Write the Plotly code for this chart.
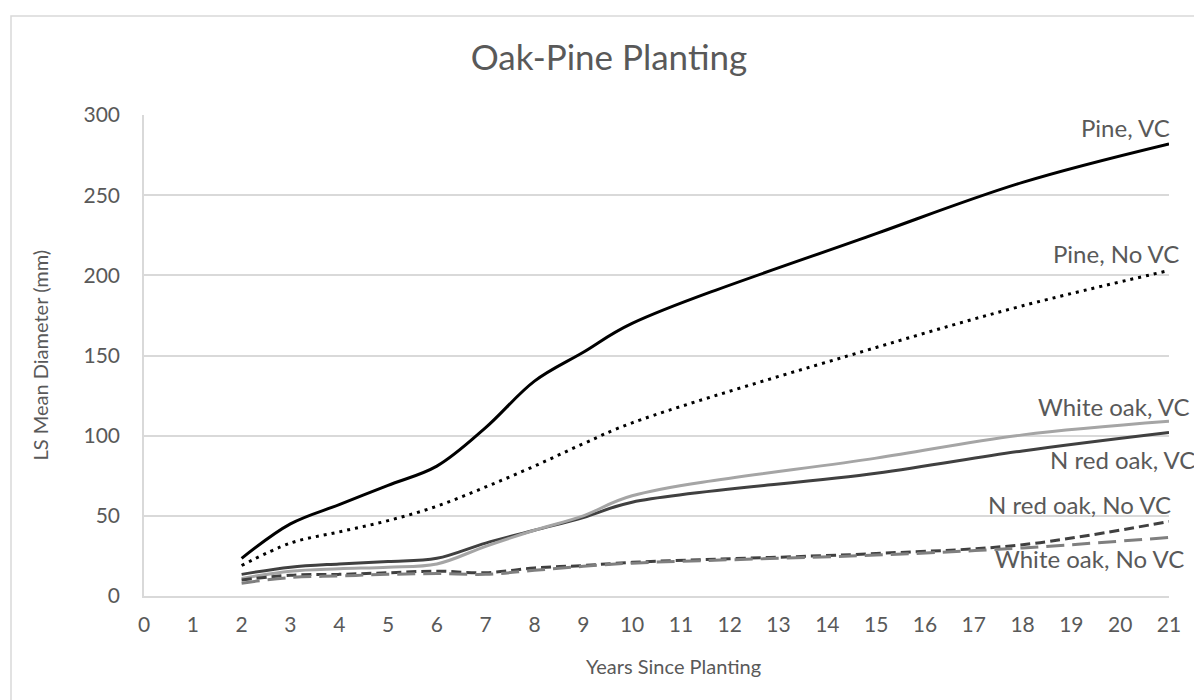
import plotly.graph_objects as go

years = [2, 3, 4, 5, 6, 7, 8, 9, 10, 15, 18, 21]

pine_vc = [23.5, 45, 57, 69, 81, 105, 134, 152, 170, 226, 258, 282]
pine_novc = [19, 33, 40, 47, 56, 68, 81, 95, 108, 155, 181, 203]
nro_vc = [13.5, 18, 20, 21.5, 23.5, 33, 41, 49, 58.5, 76.5, 90.5, 102]
nro_novc = [10, 13, 13.5, 14.5, 15.5, 14.5, 17.5, 19, 21, 26.5, 32, 46.5]
wo_vc = [11, 15.5, 17, 18, 20, 31, 41, 50, 62.5, 86, 100.5, 109]
wo_novc = [8, 11.5, 12.5, 13.5, 14, 13.5, 16, 18.5, 20.5, 25.5, 30, 36.5]

series_names = ["Pine, VC", "Pine, No VC", "N red oak, VC", "N red oak, No VC",
                "White oak, VC", "White oak, No VC"]
series_values = [pine_vc, pine_novc, nro_vc, nro_novc, wo_vc, wo_novc]
x_ticks = list(range(0, 22))
y_ticks = [0, 50, 100, 150, 200, 250, 300]

styles = {
    "Pine, VC": dict(color="#000000", width=3, dash="solid"),
    "Pine, No VC": dict(color="#000000", width=3, dash="3px,5px"),
    "N red oak, VC": dict(color="#404040", width=3, dash="solid"),
    "N red oak, No VC": dict(color="#404040", width=3, dash="10px,5px"),
    "White oak, VC": dict(color="#a5a5a5", width=3, dash="solid"),
    "White oak, No VC": dict(color="#7f7f7f", width=3, dash="18px,8px"),
}

# label positions (y in data units, x shift in px)
label_pos = {
    "Pine, VC": (292.5, 3),
    "Pine, No VC": (213.5, 12),
    "White oak, VC": (118, 23),
    "N red oak, VC": (85, 28),
    "N red oak, No VC": (57, 4),
    "White oak, No VC": (23.5, 17),
}

FONT = "Lato"
GREY = "#595959"
L, R, T, B = 136, 41, 107, 112
PW = 1202 - L - R
PH = 700 - T - B

fig = go.Figure()
order = ["Pine, VC", "Pine, No VC", "N red oak, VC", "White oak, VC",
         "N red oak, No VC", "White oak, No VC"]
for name in order:
    vals = series_values[series_names.index(name)]
    fig.add_trace(go.Scatter(
        x=years, y=vals, mode="lines", name=name,
        line=dict(shape="spline", smoothing=1, **styles[name]),
        showlegend=False,
    ))

for name in series_names:
    yv, xs = label_pos[name]
    fig.add_annotation(x=21, y=yv, xref="x", yref="y", text=name, showarrow=False,
                       xanchor="right", yanchor="middle", xshift=xs,
                       font=dict(family=FONT, size=24, color=GREY))

# axis titles as annotations (positioned like the reference)
fig.add_annotation(x=(755 - L) / PW, y=(700 - B - 658) / PH, xref="paper", yref="paper",
                   text="Years Since Planting", showarrow=False,
                   xanchor="right", yanchor="middle",
                   font=dict(family=FONT, size=20, color=GREY))
fig.add_annotation(x=(31 - L) / PW, y=0.5, xref="paper", yref="paper",
                   text="LS Mean Diameter (mm)", showarrow=False, textangle=-90,
                   xanchor="center", yanchor="middle",
                   font=dict(family=FONT, size=20, color=GREY))

fig.update_layout(
    width=1202, height=700,
    margin=dict(l=L, r=R, t=T, b=B),
    paper_bgcolor="white", plot_bgcolor="white",
    title=dict(text="Oak-Pine Planting", x=0.5, xanchor="center", y=1 - 50 / 700, yanchor="middle",
               font=dict(family=FONT, size=35, color=GREY)),
    font=dict(family=FONT, color=GREY),
)

fig.update_xaxes(
    range=[0, 21], tickvals=x_ticks, ticktext=[str(t) for t in x_ticks],
    showgrid=False, showline=True, linecolor="#d9d9d9", linewidth=1.5,
    ticks="outside", ticklen=9, tickcolor="rgba(0,0,0,0)",
    tickfont=dict(family=FONT, size=21, color=GREY),
    zeroline=False,
)
fig.update_yaxes(
    range=[0, 300], tickvals=y_ticks,
    showgrid=True, gridcolor="#d9d9d9", gridwidth=1.5,
    showline=True, linecolor="#d9d9d9", linewidth=1.5,
    ticks="outside", ticklen=18, tickcolor="rgba(0,0,0,0)",
    tickfont=dict(family=FONT, size=21, color=GREY),
    zeroline=False,
)

# chart-area border
fig.add_shape(type="rect", xref="paper", yref="paper",
              x0=(3 - L) / PW, x1=(1199 - L) / PW,
              y0=(700 - B - 703) / PH, y1=(700 - B - 8) / PH,
              line=dict(color="#d9d9d9", width=1.5), fillcolor="rgba(0,0,0,0)", layer="below")

fig.write_html("out.html")
